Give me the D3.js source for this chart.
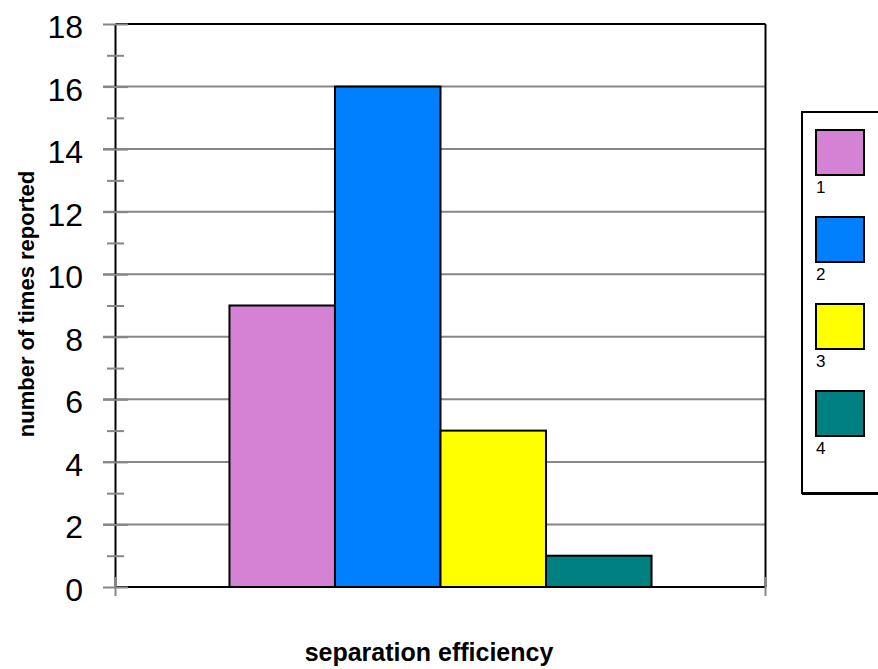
<!DOCTYPE html>
<html>
<head>
<meta charset="utf-8">
<script src="https://cdn.jsdelivr.net/npm/d3@7"></script>
<style>
  html, body { margin: 0; padding: 0; background: #fff; }
  svg { display: block; font-family: Arial, "Liberation Sans", sans-serif; }
</style>
</head>
<body>
<svg id="chart" width="878" height="669"></svg>
<script>
// Series (one bar each) and their counts
const seriesNames = ["1", "2", "3", "4"];
const seriesValues = [9, 16, 5, 1];
const seriesColors = ["#D581D4", "#0080FF", "#FFFF00", "#008080"];
const majorTicks = [0, 2, 4, 6, 8, 10, 12, 14, 16, 18];
const minorTicks = [1, 3, 5, 7, 9, 11, 13, 15, 17];
const xTitle = "separation efficiency";
const yTitle = "number of times reported";

const svg = d3.select("#chart");
const plot = { left: 115.5, right: 765.5, top: 24, bottom: 587 };

const y = d3.scaleLinear().domain([0, 18]).range([plot.bottom, plot.top]);
const x = d3.scaleBand()
  .domain(seriesNames)
  .range([plot.left, plot.right])
  .paddingInner(0)
  .paddingOuter(1.08);

// Horizontal gridlines
svg.append("g")
  .selectAll("line")
  .data(majorTicks.filter(d => d > 0 && d < 18))
  .join("line")
  .attr("x1", 103).attr("x2", plot.right)
  .attr("y1", d => y(d)).attr("y2", d => y(d))
  .attr("stroke", "#878787").attr("stroke-width", 2);

// Bars
svg.append("g")
  .selectAll("rect")
  .data(seriesValues)
  .join("rect")
  .attr("x", (d, i) => x(seriesNames[i]))
  .attr("y", d => y(d))
  .attr("width", x.bandwidth())
  .attr("height", d => y(0) - y(d))
  .attr("fill", (d, i) => seriesColors[i])
  .attr("stroke", "#000")
  .attr("stroke-width", 2);

// Plot frame
const frame = svg.append("g").attr("stroke", "#000").attr("stroke-width", 2).attr("fill", "none");
frame.append("line").attr("x1", plot.left).attr("x2", plot.right).attr("y1", plot.top).attr("y2", plot.top);
frame.append("line").attr("x1", plot.right).attr("x2", plot.right).attr("y1", plot.top).attr("y2", plot.bottom);
frame.append("line").attr("x1", plot.left).attr("x2", plot.left).attr("y1", plot.top).attr("y2", plot.bottom);
frame.append("line").attr("x1", plot.left).attr("x2", plot.right).attr("y1", plot.bottom).attr("y2", plot.bottom);

// Category axis end ticks
svg.append("g")
  .selectAll("line")
  .data([plot.left, plot.right])
  .join("line")
  .attr("x1", d => d).attr("x2", d => d)
  .attr("y1", plot.bottom - 10).attr("y2", plot.bottom + 9)
  .attr("stroke", "#878787").attr("stroke-width", 2);

// Y axis: major ticks with labels
const yAxis = svg.append("g")
  .attr("transform", `translate(128,0)`)
  .call(d3.axisLeft(y).tickValues(majorTicks).tickSize(25).tickPadding(20).tickFormat(d3.format("d")));
yAxis.select(".domain").remove();
yAxis.selectAll(".tick line").attr("stroke", "#878787").attr("stroke-width", 2);
yAxis.selectAll(".tick text")
  .attr("font-size", 32)
  .attr("font-family", "Arial, 'Liberation Sans', sans-serif")
  .attr("fill", "#000")
  .attr("dy", "0.42em");

// Y axis: minor ticks
const yMinor = svg.append("g")
  .attr("transform", `translate(124,0)`)
  .call(d3.axisLeft(y).tickValues(minorTicks).tickSize(17).tickFormat(""));
yMinor.select(".domain").remove();
yMinor.selectAll(".tick line").attr("stroke", "#878787").attr("stroke-width", 2);

// Axis titles
svg.append("text")
  .attr("transform", "translate(34,304) rotate(-90)")
  .attr("text-anchor", "middle")
  .attr("font-size", 22)
  .attr("font-weight", "bold")
  .text(yTitle);

svg.append("text")
  .attr("x", 429).attr("y", 661)
  .attr("text-anchor", "middle")
  .attr("font-size", 25)
  .attr("font-weight", "bold")
  .text(xTitle);

// Legend
const legend = svg.append("g");
legend.append("rect")
  .attr("x", 802).attr("y", 112).attr("width", 120).attr("height", 381)
  .attr("fill", "#fff").attr("stroke", "#000").attr("stroke-width", 2);
legend.append("line")
  .attr("x1", 802).attr("x2", 878).attr("y1", 493.5).attr("y2", 493.5)
  .attr("stroke", "#000").attr("stroke-width", 3);

const legendY = d3.scalePoint().domain(seriesNames).range([130, 391]);
const items = legend.selectAll("g.item")
  .data(seriesNames)
  .join("g")
  .attr("class", "item")
  .attr("transform", d => `translate(816,${legendY(d)})`);
items.append("rect")
  .attr("width", 48).attr("height", 45)
  .attr("fill", (d, i) => seriesColors[i])
  .attr("stroke", "#000").attr("stroke-width", 2);
items.append("text")
  .attr("x", 0).attr("y", 63)
  .attr("font-size", 17)
  .text(d => d);
</script>
</body>
</html>
